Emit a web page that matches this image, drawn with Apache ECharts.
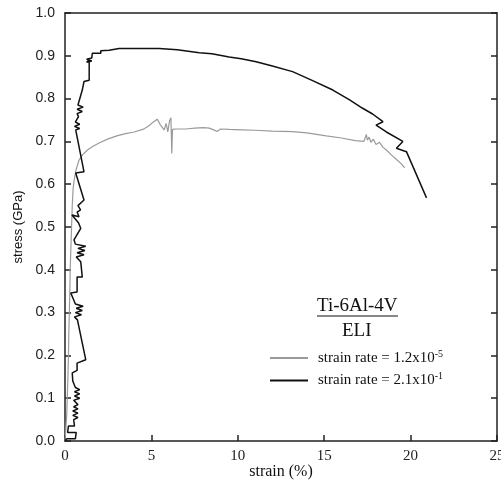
<!DOCTYPE html>
<html>
<head>
<meta charset="utf-8">
<script src="https://cdn.jsdelivr.net/npm/echarts@6/dist/echarts.min.js"></script>
<style>html,body{margin:0;padding:0;background:#fff;}#c{width:501px;height:492px;}</style>
</head>
<body>
<div id="c"></div>
<script>
// strain (%), stress (GPa)
const slowRate = [
  [0,0],[0.05,0.03],[0.1,0.06],[0.13,0.1],[0.17,0.15],[0.2,0.2],[0.22,0.25],[0.25,0.3],[0.28,0.35],[0.3,0.4],
  [0.34,0.45],[0.38,0.5],[0.42,0.55],[0.47,0.59],[0.55,0.615],[0.65,0.635],[0.8,0.655],[1.0,0.668],[1.3,0.68],
  [1.6,0.688],[2.0,0.697],[2.5,0.706],[3.0,0.713],[3.5,0.718],[4.0,0.722],[4.5,0.728],[4.8,0.735],[5.1,0.745],
  [5.34,0.752],[5.5,0.74],[5.74,0.727],[5.85,0.742],[5.95,0.722],[6.05,0.748],[6.13,0.755],[6.18,0.672],[6.22,0.728],
  [6.42,0.729],[7.0,0.729],[7.5,0.731],[8.0,0.732],[8.35,0.731],[8.6,0.727],[8.8,0.723],[9.0,0.729],[9.5,0.728],
  [10.27,0.727],[11,0.726],[12,0.724],[13.17,0.723],[14,0.72],[15.12,0.713],[16,0.708],[16.8,0.702],[17.3,0.7],
  [17.44,0.716],[17.5,0.703],[17.6,0.71],[17.7,0.698],[17.85,0.705],[18.0,0.693],[18.2,0.698],[18.4,0.686],
  [18.6,0.68],[18.9,0.668],[19.2,0.657],[19.45,0.648],[19.66,0.638]
];
const fastRate = [
  [0.0,0.0],[0.1,0.005],[0.6,0.005],[0.65,0.02],[0.15,0.02],[0.2,0.035],[0.55,0.035],[0.5,0.05],[0.75,0.055],
  [0.45,0.06],[0.75,0.065],[0.45,0.07],[0.75,0.075],[0.5,0.08],[0.75,0.085],[0.5,0.095],[0.85,0.1],[0.55,0.105],
  [0.85,0.11],[0.55,0.115],[0.85,0.12],[0.6,0.125],[0.45,0.14],[0.42,0.159],[0.7,0.165],[0.7,0.182],[1.2,0.19],
  [0.72,0.283],[0.55,0.29],[0.95,0.295],[0.6,0.3],[1.0,0.305],[0.65,0.31],[1.05,0.315],[0.6,0.32],[0.5,0.33],
  [0.33,0.346],[0.7,0.348],[0.7,0.383],[1.0,0.383],[0.91,0.419],[0.65,0.43],[1.1,0.435],[0.7,0.44],[1.15,0.445],
  [0.75,0.45],[1.2,0.455],[0.6,0.46],[0.52,0.47],[0.91,0.497],[0.78,0.51],[0.4,0.528],[0.81,0.524],[0.7,0.535],
  [0.9,0.54],[0.75,0.55],[1.1,0.563],[0.62,0.626],[1.1,0.629],[0.62,0.727],[0.85,0.73],[0.55,0.735],[0.85,0.74],
  [0.6,0.745],[0.78,0.758],[0.7,0.765],[1.0,0.77],[0.7,0.775],[1.05,0.78],[0.75,0.785],[1.0,0.82],[1.1,0.84],
  [1.4,0.843],[1.4,0.89],[1.25,0.885],[1.55,0.888],[1.25,0.892],[1.55,0.895],[1.58,0.898],[1.58,0.906],[2.07,0.906],
  [2.07,0.912],[2.55,0.913],[3.13,0.917],[4.0,0.917],[5.45,0.917],[6.5,0.914],[7.77,0.907],[8.5,0.905],[9.5,0.897],
  [10.2,0.893],[11.06,0.886],[12.0,0.876],[13.17,0.863],[14.33,0.842],[15.5,0.82],[16.47,0.797],[17.2,0.778],
  [17.8,0.764],[18.4,0.746],[18.0,0.738],[18.6,0.722],[19.55,0.7],[19.18,0.684],[19.76,0.676],[20.92,0.568]
];
const xTicks = [0,5,10,15,20,25];
const yTicks = [0,0.1,0.2,0.3,0.4,0.5,0.6,0.7,0.8,0.9,1.0];
const seriesNames = ['slow','fast'];
const legendLabels = {slow:['strain rate = 1.2x10','-5'], fast:['strain rate = 2.1x10','-1']};

const chart = echarts.init(document.getElementById('c'));
const axisLineStyle = {color:'#222', width:1.5};
const tickIn = {show:true, inside:true, length:6, lineStyle:{color:'#222', width:1.5}};
chart.setOption({
  animation:false,
  grid:{left:65, right:4, top:13, bottom:51, containLabel:false, outerBoundsMode:'none'},
  xAxis:[{
    type:'value', min:xTicks[0], max:xTicks[xTicks.length-1], interval:5,
    name:'strain (%)', nameLocation:'middle', nameGap:23, nameMoveOverlap:false,
    nameTextStyle:{fontFamily:'Liberation Serif', fontSize:16, color:'#111'},
    axisLine:{lineStyle:axisLineStyle},
    axisTick:tickIn,
    axisLabel:{fontFamily:'Liberation Serif', fontSize:15, color:'#222', margin:8, hideOverlap:false},
    splitLine:{show:false}
  },{
    type:'value', position:'top', min:0, max:25, interval:5,
    axisLine:{show:true, onZero:false, lineStyle:axisLineStyle}, axisTick:{show:false}, axisLabel:{show:false}, splitLine:{show:false}
  }],
  yAxis:[{
    type:'value', min:yTicks[0], max:yTicks[yTicks.length-1], interval:0.1,
    name:'stress (GPa)', nameLocation:'middle', nameGap:40, nameMoveOverlap:false,
    nameTextStyle:{fontFamily:'Liberation Sans', fontSize:13, color:'#111'},
    axisLine:{lineStyle:axisLineStyle},
    axisTick:tickIn,
    axisLabel:{fontFamily:'Liberation Sans', fontSize:14, color:'#222', margin:10, formatter:v=>v.toFixed(1)},
    splitLine:{show:false}
  },{
    type:'value', position:'right', min:0, max:1, interval:0.1,
    axisLine:{show:true, onZero:false, lineStyle:axisLineStyle},
    axisTick:tickIn,
    axisLabel:{show:false}, splitLine:{show:false}
  }],
  legend:{
    orient:'vertical', left:270, top:349, padding:0, itemWidth:38, itemHeight:2, itemGap:6,
    icon:'rect', selectedMode:false,
    data:seriesNames,
    formatter:n=>'{a|'+legendLabels[n][0]+'}{s|'+legendLabels[n][1]+'}',
    textStyle:{
      rich:{
        a:{fontFamily:'Liberation Serif', fontSize:15, color:'#111', padding:[0,0,0,5]},
        s:{fontFamily:'Liberation Serif', fontSize:10, color:'#111', verticalAlign:'top', padding:[0,0,8,0]}
      }
    }
  },
  graphic:[
    {type:'text', left:317, top:297, style:{text:'Ti-6Al-4V', font:'19px "Liberation Serif"', fill:'#111'}},
    {type:'line', shape:{x1:317, y1:316, x2:398, y2:316}, style:{stroke:'#111', lineWidth:1}},
    {type:'text', left:342, top:322, style:{text:'ELI', font:'19px "Liberation Serif"', fill:'#111'}}
  ],
  series:[
    {name:'slow', type:'line', data:slowRate, showSymbol:false, symbol:'none',
     lineStyle:{color:'#9a9a9a', width:1.2}, itemStyle:{color:'#9a9a9a'}},
    {name:'fast', type:'line', data:fastRate, showSymbol:false, symbol:'none',
     lineStyle:{color:'#111', width:1.5}, itemStyle:{color:'#111'}}
  ]
});
</script>
</body>
</html>
